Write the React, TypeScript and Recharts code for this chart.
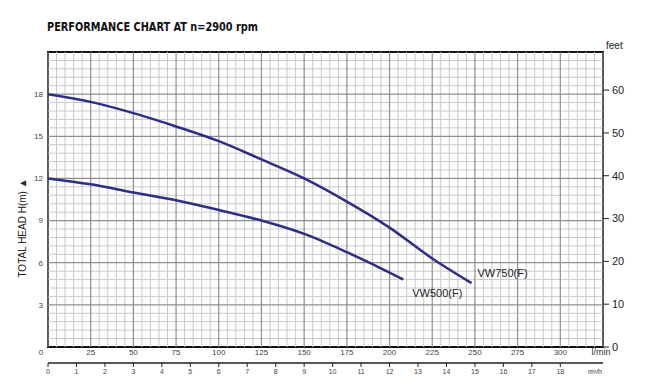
import React from "react";
import {
  ComposedChart,
  Line,
  ReferenceArea,
  ReferenceLine,
  XAxis,
  YAxis,
} from "recharts";

// Flow (l/min) / head (m)
const Q_750 = [0, 25, 50, 75, 100, 125, 150, 175, 200, 225, 248];
const H_750 = [18, 17.45, 16.65, 15.7, 14.65, 13.35, 12.0, 10.35, 8.5, 6.3, 4.55];
const Q_500 = [0, 25, 50, 75, 100, 125, 150, 175, 200, 208];
const H_500 = [12, 11.58, 11.0, 10.45, 9.75, 9.0, 8.05, 6.75, 5.3, 4.8];

const Q_TICKS = [0, 25, 50, 75, 100, 125, 150, 175, 200, 225, 250, 275, 300, 325];
const H_TICKS = [3, 6, 9, 12, 15, 18];
const FT_TICKS = [0, 10, 20, 30, 40, 50, 60];
const M3_TICKS = [0, 1, 2, 3, 4, 5, 6, 7, 8, 9, 10, 11, 12, 13, 14, 15, 16, 17, 18];

const Q_MAX = 325;
const H_MAX = 21;
const FT_PER_M = 3.28084;
const LPM_PER_M3H = 1000 / 60;

// grid every 5 l/min and 0.6 m, heavier every 25 l/min and 3 m
const MINOR_Q = Array.from({ length: Q_MAX / 5 + 1 }, (_, i) => i * 5).filter((q) => q % 25 !== 0);
const MINOR_H = Array.from({ length: 36 }, (_, i) => +(i * 0.6).toFixed(1)).filter((_, i) => i % 5 !== 0);

const toRows = (qs: number[], hs: number[]) => qs.map((q, i) => ({ q, h: hs[i] }));
const vw750 = toRows(Q_750, H_750);
const vw500 = toRows(Q_500, H_500);
const m3Rows = M3_TICKS.map((m3) => ({ m3 }));

const CURVE = "#2d2e84";
const MINOR = "#c9c9c9";
const MAJOR = "#8e8e8e";
const FONT = "'Liberation Sans', Arial, sans-serif";

function XTick(props: any) {
  const { x, y, payload } = props;
  const v = payload.value;
  if (v === Q_MAX) {
    return (
      <text x={x - 2} y={y} dy="0.71em" textAnchor="middle" fontSize={9} fill="#333" fontFamily={FONT}>
        l/min
      </text>
    );
  }
  return (
    <text x={v === 0 ? x - 7 : x} y={y} dy="0.71em" textAnchor="middle" fontSize={8} fill="#444" fontFamily={FONT}>
      {v}
    </text>
  );
}

const endLabel = (text: string, n: number, dx: number, dy: number) => (props: any) => {
  const { x, y, index } = props;
  if (index !== n - 1) return null;
  return (
    <text x={x + dx} y={y + dy} dy="0.35em" fontSize={11} fill="#222" fontFamily={FONT}>
      {text}
    </text>
  );
};

export default function App() {
  return (
    <div style={{ position: "absolute", left: 0, top: 0, width: 650, height: 386, background: "#fff" }}>
      <svg width={650} height={40} style={{ position: "absolute", left: 0, top: 0 }}>
        <text
          x={47}
          y={31}
          fontSize={12.5}
          fontWeight="bold"
          fill="#111"
          fontFamily="'Liberation Sans Narrow', 'Arial Narrow', 'DejaVu Sans Condensed', sans-serif"
          textLength={211}
          lengthAdjust="spacingAndGlyphs"
        >
          PERFORMANCE CHART AT  n=2900 rpm
        </text>
      </svg>
      <ComposedChart width={650} height={386} data={m3Rows} margin={{ top: 52, right: 0, bottom: 0, left: 0 }}>
        <XAxis
          xAxisId={0}
          type="number"
          dataKey="q"
          domain={[0, Q_MAX]}
          ticks={Q_TICKS}
          allowDataOverflow
          height={16}
          axisLine={false}
          tickLine={false}
          tickSize={0}
          tickMargin={2}
          tick={<XTick />}
        />
        <XAxis
          xAxisId={1}
          type="number"
          dataKey="m3"
          domain={[0, Q_MAX / LPM_PER_M3H]}
          ticks={M3_TICKS}
          allowDataOverflow
          height={23}
          axisLine={{ stroke: "#222", strokeWidth: 1.5 }}
          tickLine={{ stroke: "#222" }}
          tickSize={4}
          tickMargin={2}
          tick={{ fontSize: 7, fill: "#444", fontFamily: FONT }}
          label={(p: any) => {
            const vb = p.viewBox;
            return (
              <text x={vb.x + vb.width - 8} y={vb.y + 6} dy="0.71em" textAnchor="middle" fontSize={7} fill="#333" fontFamily={FONT}>
                m³/h
              </text>
            );
          }}
        />
        <YAxis
          yAxisId="h"
          type="number"
          domain={[0, H_MAX]}
          ticks={H_TICKS}
          allowDataOverflow
          width={48}
          axisLine={false}
          tickLine={false}
          tickSize={0}
          tickMargin={5}
          tick={{ fontSize: 8, fill: "#444", fontFamily: FONT }}
          label={(p: any) => {
            const vb = p.viewBox;
            const cx = vb.x + 22;
            const cy = vb.y + 176;
            return (
              <text
                x={cx}
                y={cy}
                transform={`rotate(-90 ${cx} ${cy})`}
                textAnchor="middle"
                dy="0.35em"
                fontSize={10}
                fill="#222"
                fontFamily="'Liberation Sans Narrow', 'Arial Narrow', sans-serif"
              >
                TOTAL HEAD H(m) ▲
              </text>
            );
          }}
        />
        <YAxis
          yAxisId="ft"
          orientation="right"
          type="number"
          domain={[0, H_MAX * FT_PER_M]}
          ticks={FT_TICKS}
          allowDataOverflow
          width={47}
          axisLine={false}
          tickLine={{ stroke: "#222" }}
          tickSize={6}
          tickMargin={3}
          tick={{ fontSize: 11, fill: "#222", fontFamily: FONT }}
          label={(p: any) => {
            const vb = p.viewBox;
            return (
              <text x={vb.x + 3} y={vb.y - 3} fontSize={10} fill="#222" fontFamily={FONT}>
                feet
              </text>
            );
          }}
        />

        {MINOR_Q.map((q) => (
          <ReferenceLine key={`mq${q}`} xAxisId={0} yAxisId="h" x={q} stroke={MINOR} strokeWidth={1} />
        ))}
        {MINOR_H.map((h) => (
          <ReferenceLine key={`mh${h}`} xAxisId={0} yAxisId="h" y={h} stroke={MINOR} strokeWidth={1} />
        ))}
        {Q_TICKS.map((q) => (
          <ReferenceLine key={`Mq${q}`} xAxisId={0} yAxisId="h" x={q} stroke={MAJOR} strokeWidth={1.2} />
        ))}
        {H_TICKS.map((h) => (
          <ReferenceLine key={`Mh${h}`} xAxisId={0} yAxisId="h" y={h} stroke={MAJOR} strokeWidth={1.2} />
        ))}
        <ReferenceArea
          xAxisId={0}
          yAxisId="h"
          x1={0}
          x2={Q_MAX}
          y1={0}
          y2={H_MAX}
          fill="none"
          fillOpacity={0}
          stroke="#111"
          strokeWidth={2}
          ifOverflow="visible"
        />

        <Line
          xAxisId={0}
          yAxisId="h"
          data={vw750}
          dataKey="h"
          type="monotone"
          stroke={CURVE}
          strokeWidth={2.5}
          dot={false}
          isAnimationActive={false}
          label={endLabel("VW750(F)", vw750.length, 6, -10)}
        />
        <Line
          xAxisId={0}
          yAxisId="h"
          data={vw500}
          dataKey="h"
          type="monotone"
          stroke={CURVE}
          strokeWidth={2.5}
          dot={false}
          isAnimationActive={false}
          label={endLabel("VW500(F)", vw500.length, 9, 14)}
        />
      </ComposedChart>
    </div>
  );
}
